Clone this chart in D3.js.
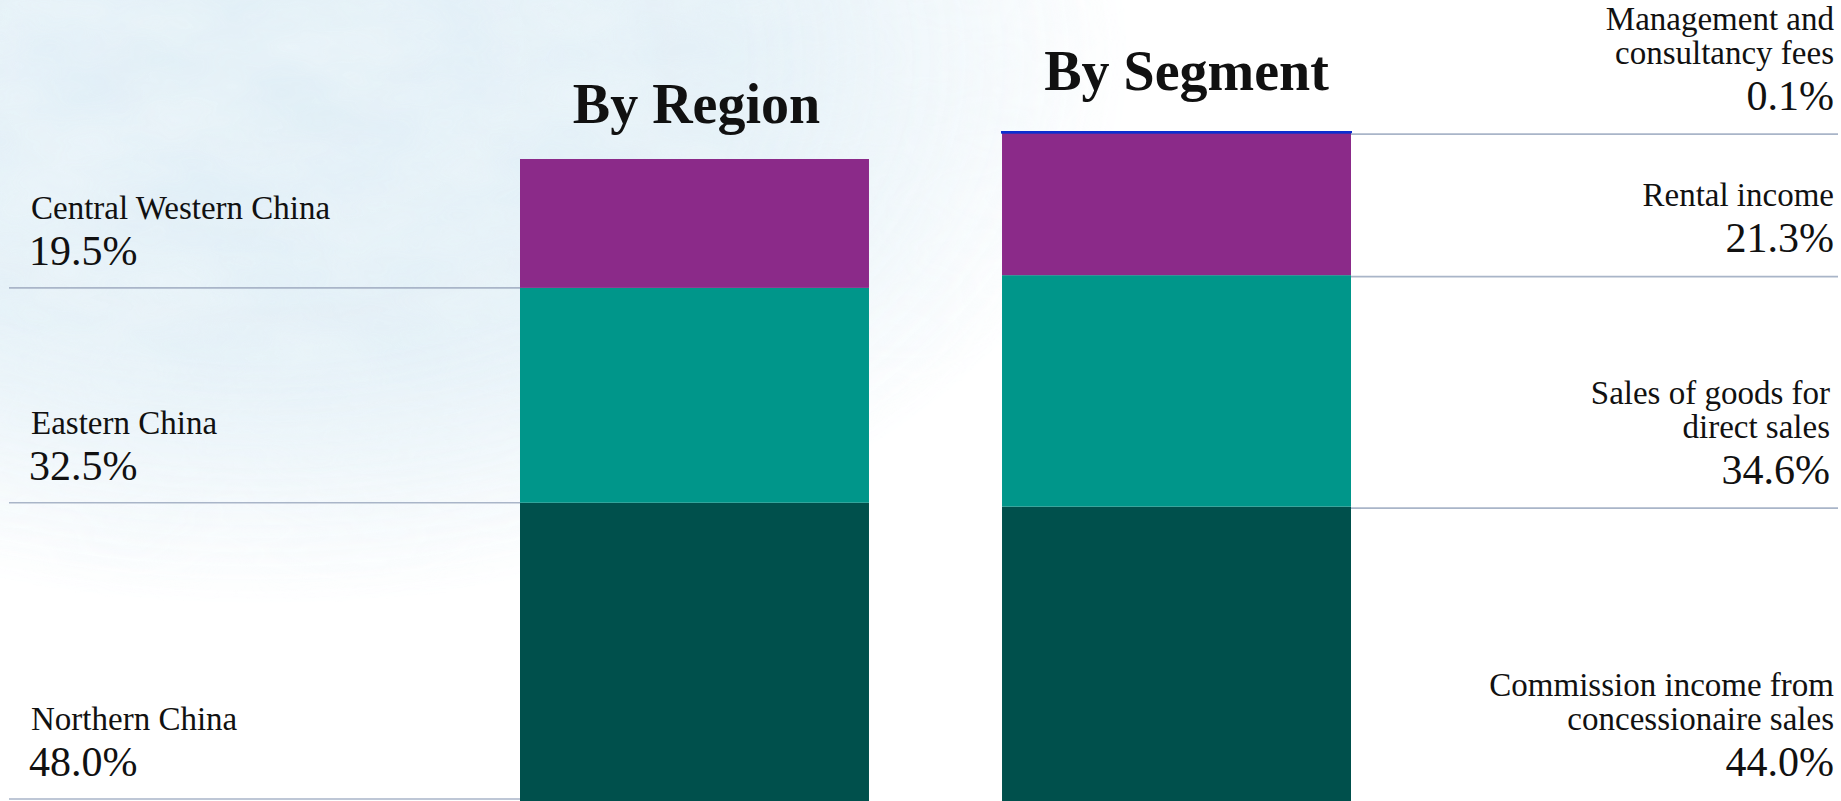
<!DOCTYPE html>
<html>
<head>
<meta charset="utf-8">
<script src="https://cdn.jsdelivr.net/npm/d3@7/dist/d3.min.js"></script>
<style>
  html, body { margin: 0; padding: 0; background: #ffffff; overflow: hidden; }
  svg { display: block; }
  text { font-family: "Liberation Serif", "Times New Roman", serif; fill: #111; }
</style>
</head>
<body>
<svg id="chart"></svg>
<script>
// Revenue breakdown, two 100% stacked columns
const chartTitles = ["By Region", "By Segment"];

// By Region (bottom to top)
const regionNames = ["Northern China", "Eastern China", "Central Western China"];
const regionShares = [48.0, 32.5, 19.5];

// By Segment (bottom to top); "\n" marks a label line break
const segmentNames = [
  "Commission income from\nconcessionaire sales",
  "Sales of goods for\ndirect sales",
  "Rental income",
  "Management and\nconsultancy fees"
];
const segmentShares = [44.0, 34.6, 21.3, 0.1];

const regionColors = ["#00504c", "#00968a", "#8b2a89"];
const segmentColors = ["#00504c", "#00968a", "#8b2a89", "#0b2fd0"];

const W = 1841, H = 801;
const svg = d3.select("#chart").attr("width", W).attr("height", H);
const defs = svg.append("defs");

// ---- pale watercolour wash in the upper-left corner ----
const fade = defs.append("radialGradient")
  .attr("id", "fade").attr("gradientUnits", "userSpaceOnUse")
  .attr("cx", 260).attr("cy", 60).attr("r", 760)
  .attr("gradientTransform", "translate(260,60) scale(1.15,0.72) translate(-260,-60)");
fade.append("stop").attr("offset", 0).attr("stop-color", "#fff").attr("stop-opacity", 1);
fade.append("stop").attr("offset", 0.55).attr("stop-color", "#fff").attr("stop-opacity", 0.85);
fade.append("stop").attr("offset", 0.85).attr("stop-color", "#fff").attr("stop-opacity", 0.25);
fade.append("stop").attr("offset", 1).attr("stop-color", "#fff").attr("stop-opacity", 0);
defs.append("mask").attr("id", "washMask")
  .append("rect").attr("width", W).attr("height", H).attr("fill", "url(#fade)");

const wash = defs.append("filter").attr("id", "mottle")
  .attr("x", 0).attr("y", 0).attr("width", "100%").attr("height", "100%");
wash.append("feTurbulence").attr("type", "fractalNoise")
  .attr("baseFrequency", "0.006 0.012").attr("numOctaves", 4).attr("seed", 7).attr("result", "noise");
wash.append("feColorMatrix").attr("in", "noise").attr("type", "matrix")
  .attr("values", "0 0 0 0 0.84  0 0 0 0 0.915  0 0 0 0 0.955  1.6 0 0 0 -0.35")
  .attr("result", "tint");
wash.append("feComposite").attr("in", "tint").attr("in2", "SourceGraphic").attr("operator", "in");

svg.append("rect").attr("width", W).attr("height", H)
  .attr("fill", "#dcecf5").attr("opacity", 0.9)
  .attr("mask", "url(#washMask)");
svg.append("rect").attr("width", W).attr("height", H)
  .attr("fill", "#000").attr("filter", "url(#mottle)")
  .attr("mask", "url(#washMask)").attr("opacity", 0.9);

// ---- scales ----
const x = d3.scaleBand().domain(chartTitles).range([520, 1351]).paddingInner(0.276).paddingOuter(0);
const yRegion = d3.scaleLinear().domain([0, 100]).range([820, 159]);
const ySegment = d3.scaleLinear().domain([0, 100]).range([801, 132]);

function stackOf(names, shares, colors) {
  const tops = d3.cumsum(shares);
  return names.map((n, i) => ({ name: n, value: shares[i], y0: tops[i] - shares[i], y1: tops[i], color: colors[i] }));
}
const regionStack = stackOf(regionNames, regionShares, regionColors);
const segmentStack = stackOf(segmentNames, segmentShares, segmentColors);

const lineColor = "#a9b5c8";
const fmt = d3.format(".1f");
const nameSize = 33, pctSize = 42, nameLead = 34, pctGap = 46, pctLift = 23;

// ---- By Region ----
const gR = svg.append("g");
gR.selectAll("rect").data(regionStack).join("rect")
  .attr("x", x("By Region")).attr("width", x.bandwidth())
  .attr("y", d => yRegion(d.y1)).attr("height", d => yRegion(d.y0) - yRegion(d.y1))
  .attr("fill", d => d.color);

const regionLineY = d => Math.min(yRegion(d.y0), H - 2);
gR.selectAll("line").data(regionStack).join("line")
  .attr("x1", 9).attr("x2", x("By Region"))
  .attr("y1", regionLineY).attr("y2", regionLineY)
  .attr("stroke", lineColor).attr("stroke-width", 1.6);

regionStack.forEach(d => {
  const base = regionLineY(d) - pctLift;
  const lines = d.name.split("\n");
  lines.forEach((t, k) => {
    gR.append("text").attr("x", 31).attr("y", base - pctGap - nameLead * (lines.length - 1 - k))
      .attr("font-size", nameSize).text(t);
  });
  gR.append("text").attr("x", 29).attr("y", base).attr("font-size", pctSize).text(fmt(d.value) + "%");
});

gR.append("text").attr("x", x("By Region") + x.bandwidth() / 2 + 2).attr("y", 123)
  .attr("text-anchor", "middle").attr("font-size", 56).attr("font-weight", "bold").text("By Region");

// ---- By Segment ----
const gS = svg.append("g");
gS.selectAll("rect").data(segmentStack).join("rect")
  .attr("x", x("By Segment")).attr("width", x.bandwidth())
  .attr("y", d => ySegment(d.y1)).attr("height", d => ySegment(d.y0) - ySegment(d.y1))
  .attr("fill", d => d.color)
  .attr("stroke", d => d.value < 1 ? d.color : "none")
  .attr("stroke-width", 2);

const segLines = segmentStack.filter(d => d.y0 > 0);
gS.selectAll("line").data(segLines).join("line")
  .attr("x1", x("By Segment") + x.bandwidth()).attr("x2", 1838)
  .attr("y1", d => ySegment(d.y0) + 1.5).attr("y2", d => ySegment(d.y0) + 1.5)
  .attr("stroke", lineColor).attr("stroke-width", 1.6);

segmentStack.forEach(d => {
  const lineY = d.y0 > 0 ? ySegment(d.y0) : H - 2;
  const base = lineY - pctLift;
  const right = d.name.startsWith("Sales") ? 1830 : 1834;
  const lines = d.name.split("\n");
  lines.forEach((t, k) => {
    gS.append("text").attr("x", right).attr("y", base - pctGap - nameLead * (lines.length - 1 - k))
      .attr("text-anchor", "end").attr("font-size", nameSize).text(t);
  });
  gS.append("text").attr("x", right).attr("y", base).attr("text-anchor", "end")
    .attr("font-size", pctSize).text(fmt(d.value) + "%");
});

gS.append("text").attr("x", x("By Segment") + x.bandwidth() / 2 + 10).attr("y", 90)
  .attr("text-anchor", "middle").attr("font-size", 56).attr("font-weight", "bold").text("By Segment");
</script>
</body>
</html>
